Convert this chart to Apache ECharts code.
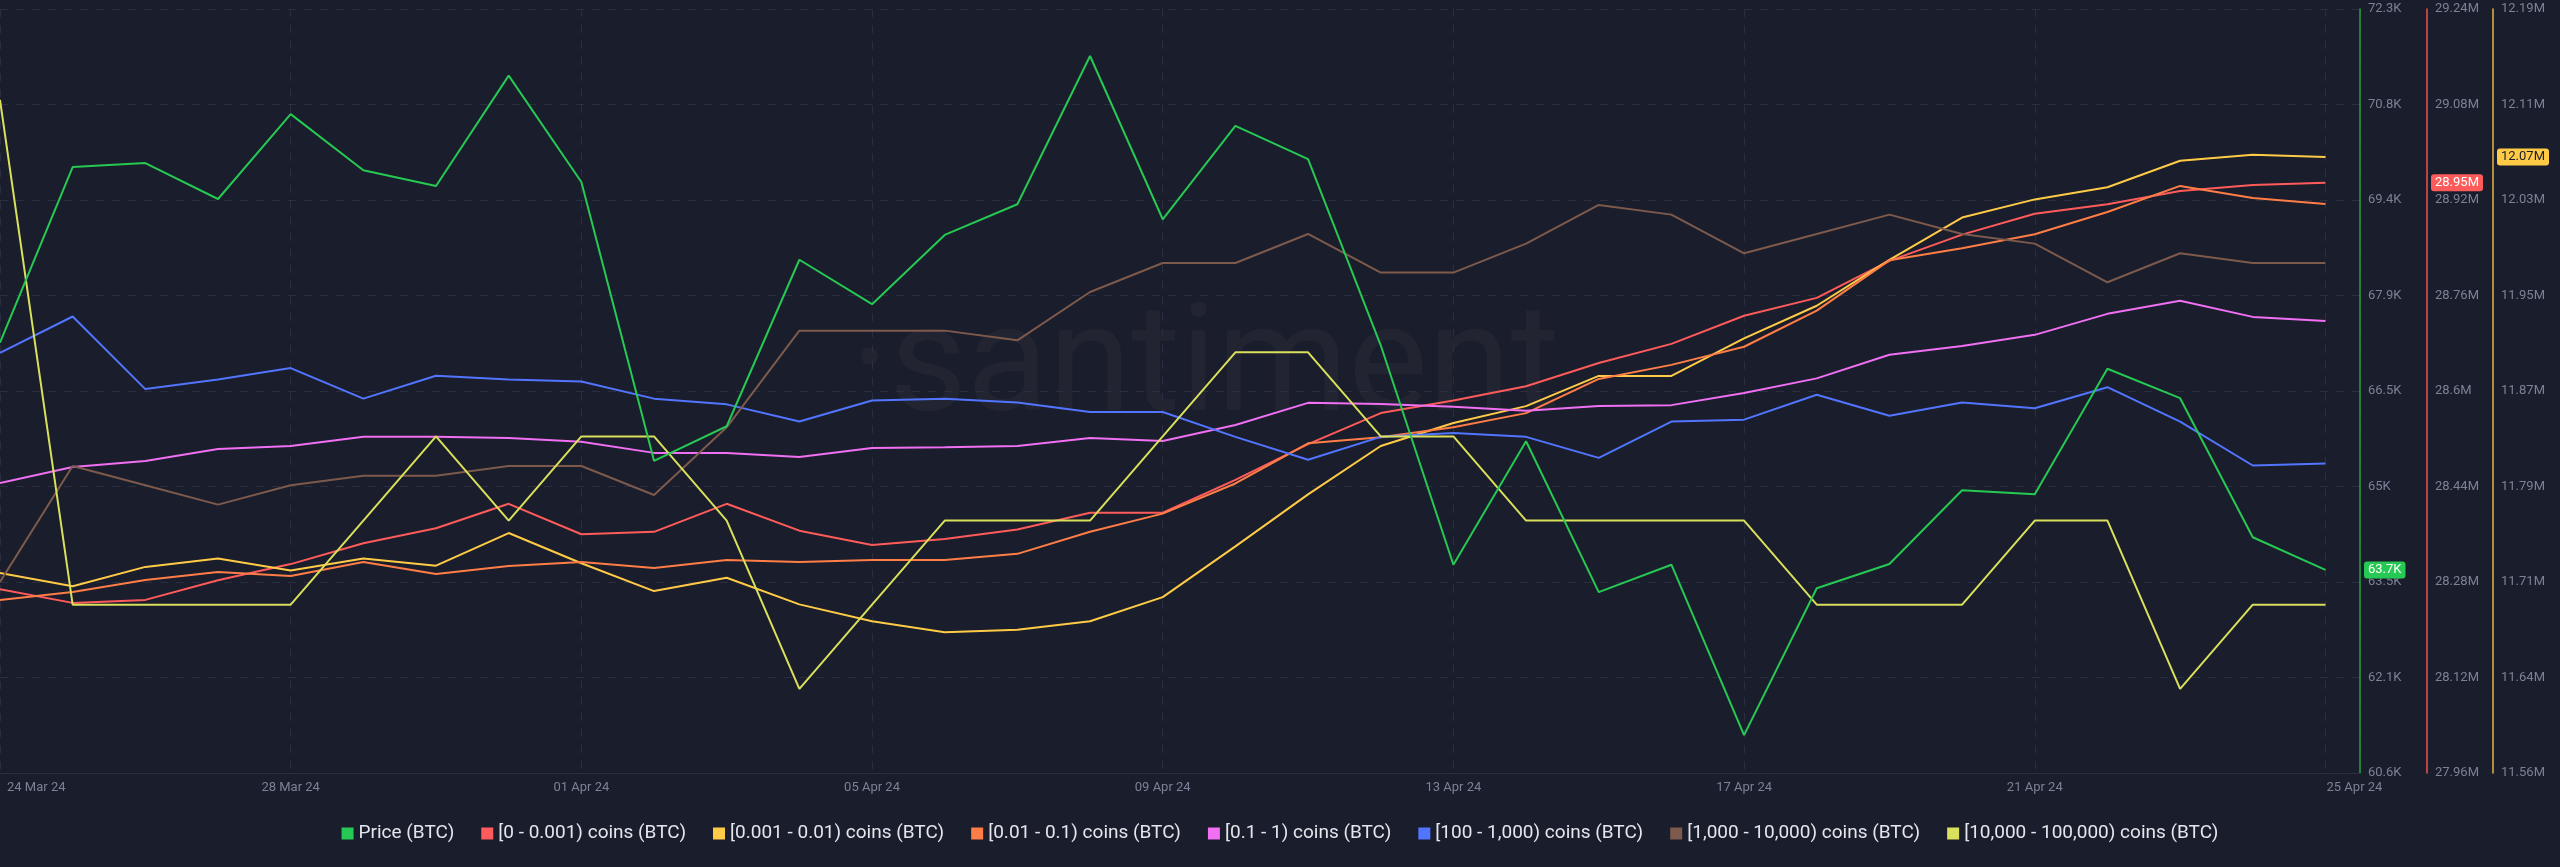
<!DOCTYPE html>
<html>
<head>
<meta charset="utf-8">
<script src="https://cdn.jsdelivr.net/npm/echarts@6/dist/echarts.min.js"></script>
<style>
html,body{margin:0;padding:0;background:#1a1d2b;}
#c{width:2560px;height:867px;}
</style>
</head>
<body>
<div id="c"></div>
<script>
const dates = ['24 Mar 24','25 Mar 24','26 Mar 24','27 Mar 24','28 Mar 24','29 Mar 24','30 Mar 24','31 Mar 24',
  '01 Apr 24','02 Apr 24','03 Apr 24','04 Apr 24','05 Apr 24','06 Apr 24','07 Apr 24','08 Apr 24',
  '09 Apr 24','10 Apr 24','11 Apr 24','12 Apr 24','13 Apr 24','14 Apr 24','15 Apr 24','16 Apr 24',
  '17 Apr 24','18 Apr 24','19 Apr 24','20 Apr 24','21 Apr 24','22 Apr 24','23 Apr 24','24 Apr 24','25 Apr 24'];

const seriesNames = ['Price (BTC)','[0 - 0.001) coins (BTC)','[0.001 - 0.01) coins (BTC)','[0.01 - 0.1) coins (BTC)',
  '[0.1 - 1) coins (BTC)','[100 - 1,000) coins (BTC)','[1,000 - 10,000) coins (BTC)','[10,000 - 100,000) coins (BTC)'];

// Price in USD
const price = [67200,69890,69950,69400,70700,69840,69600,71290,69660,65390,65920,68470,67790,68850,69320,71590,
  69090,70520,70010,67160,63800,65690,63380,63800,61190,63440,63810,64940,64880,66800,66350,64220,63720];
// address counts, millions
const bal0 = [28.268,28.245,28.250,28.283,28.310,28.345,28.370,28.411,28.360,28.364,28.411,28.366,28.342,28.352,28.368,28.396,
  28.396,28.451,28.511,28.563,28.584,28.608,28.647,28.679,28.726,28.756,28.818,28.862,28.897,28.913,28.935,28.945,28.949];
const bal1 = [11.722,11.711,11.727,11.734,11.724,11.734,11.728,11.755,11.730,11.707,11.718,11.696,11.682,11.673,11.675,11.682,
  11.702,11.744,11.787,11.827,11.846,11.860,11.885,11.885,11.916,11.943,11.981,12.016,12.031,12.041,12.063,12.068,12.066];
const bal2 = [7.806,7.810,7.816,7.820,7.818,7.825,7.819,7.823,7.825,7.822,7.826,7.825,7.826,7.826,7.829,7.840,
  7.849,7.864,7.884,7.887,7.892,7.899,7.916,7.923,7.932,7.950,7.975,7.981,7.988,7.999,8.012,8.006,8.003];
const bal3 = [3.4759,3.4801,3.4817,3.4848,3.4856,3.4880,3.4880,3.4877,3.4867,3.4838,3.4838,3.4827,3.4851,3.4853,3.4856,3.4877,
  3.4869,3.4911,3.4969,3.4966,3.4959,3.4948,3.4961,3.4963,3.4995,3.5033,3.5095,3.5118,3.5147,3.5202,3.5236,3.5194,3.5183];
// address counts
const bal4 = [14020,14039,14001,14006,14012,13996,14008,14006,14005,13996,13993,13984,13995,13996,13994,13989,
  13989,13976,13964,13976,13978,13976,13965,13984,13985,13998,13987,13994,13991,14002,13984,13961,13962];
const bal5 = [1920,1932,1930,1928,1930,1931,1931,1932,1932,1929,1936,1946,1946,1946,1945,1950,
  1953,1953,1956,1952,1952,1955,1959,1958,1954,1956,1958,1956,1955,1951,1954,1953,1953];
const bal6 = [104,98,98,98,98,99,100,99,100,100,99,97,98,99,99,99,
  100,101,101,100,100,99,99,99,99,98,98,98,99,99,97,98,98];

const colors = ['#26c953','#ff5b5b','#ffcb47','#ff7d47','#f06ff3','#5275ff','#7d5a4c','#d9e05b'];
const allData = [price,bal0,bal1,bal2,bal3,bal4,bal5,bal6];

const chart = echarts.init(document.getElementById('c'), null, {renderer:'canvas'});
const FONT = 'Roboto';
const LABEL_COLOR = '#7d8196';

function trim(n, d){ return String(+n.toFixed(d)); }

const hiddenAxes = [
  {min:7.72, max:8.10},
  {min:3.40, max:3.60},
  {min:13800, max:14200},
  {min:1900.24, max:1979.27},
  {min:96, max:105.08}
];

const yAxes = [
  {
    type:'value', position:'right', offset:0, min:60610, max:72310, interval:1462.5,
    axisLine:{show:true, onZero:false, lineStyle:{color:'#21a33f', width:1.5}},
    axisTick:{show:false},
    axisLabel:{color:LABEL_COLOR, fontSize:13, fontFamily:FONT, margin:8,
      formatter:v => trim(v/1000,1)+'K'},
    splitLine:{show:true, lineStyle:{color:'#2a2e40', type:[8,8], width:1}},
    axisPointer:{show:true, status:'show', value:price[price.length-1], triggerTooltip:false,
      lineStyle:{opacity:0},
      label:{show:true, margin:4, padding:[2,4,2,4], fontSize:13, fontFamily:FONT, color:'#fff',
        backgroundColor:'#26c953', formatter:p => trim(p.value/1000,1)+'K'}}
  },
  {
    type:'value', position:'right', offset:67, min:27.96, max:29.24, interval:0.16,
    axisLine:{show:true, onZero:false, lineStyle:{color:'#f0524d', width:1.5}},
    axisTick:{show:false},
    axisLabel:{color:LABEL_COLOR, fontSize:13, fontFamily:FONT, margin:8, formatter:v => trim(v,2)+'M'},
    splitLine:{show:false},
    axisPointer:{show:true, status:'show', value:bal0[bal0.length-1], triggerTooltip:false,
      lineStyle:{opacity:0},
      label:{show:true, margin:4, padding:[2,4,2,4], fontSize:13, fontFamily:FONT, color:'#fff',
        backgroundColor:'#ff5b5b', formatter:p => (+p.value).toFixed(2)+'M'}}
  },
  {
    type:'value', position:'right', offset:133, min:11.5565, max:12.1885, interval:0.079,
    axisLine:{show:true, onZero:false, lineStyle:{color:'#e8b640', width:1.5}},
    axisTick:{show:false},
    axisLabel:{color:LABEL_COLOR, fontSize:13, fontFamily:FONT, margin:8, formatter:v => trim(v,2)+'M'},
    splitLine:{show:false},
    axisPointer:{show:true, status:'show', value:bal1[bal1.length-1], triggerTooltip:false,
      lineStyle:{opacity:0},
      label:{show:true, margin:4, padding:[2,4,2,4], fontSize:13, fontFamily:FONT, color:'#1a1d2b',
        backgroundColor:'#ffcb47', formatter:p => (+p.value).toFixed(2)+'M'}}
  }
].concat(hiddenAxes.map(a => ({type:'value', show:false, position:'right', min:a.min, max:a.max,
  axisLine:{onZero:false}, splitLine:{show:false}, axisPointer:{show:false}})));

const option = {
  backgroundColor:'#1a1d2b',
  animation:false,
  textStyle:{fontFamily:FONT},
  graphic:[{
    type:'text', x:1205, y:372, silent:true, z:-10,
    style:{text:'·santiment', font:'150px Roboto', fill:'rgba(255,255,255,0.035)',
      align:'center', verticalAlign:'middle'}
  }],
  grid:{left:0, right:200, top:9, bottom:94, containLabel:false},
  legend:{
    bottom:19, left:'center', icon:'rect', itemWidth:12, itemHeight:12, itemGap:27,
    textStyle:{color:'#e4e6ee', fontSize:19, fontFamily:FONT},
    data:seriesNames
  },
  xAxis:{
    type:'value', min:0, max:2360/72.67, interval:4,
    axisLine:{show:true, onZero:false, lineStyle:{color:'#2a2e40'}},
    axisTick:{show:false},
    splitLine:{show:true, lineStyle:{color:'#2a2e40', type:[8,8], width:1}},
    axisLabel:{
      color:LABEL_COLOR, fontSize:13, fontFamily:FONT, margin:8,
      alignMinLabel:'left', showMaxLabel:true,
      formatter:v => {
        if (!Number.isInteger(v) || !dates[v]) return '';
        if (v === 0) return '{first|' + dates[v] + '}';
        if (v === dates.length-1) return '{last|' + dates[v] + '}';
        return dates[v];
      },
      rich:{
        first:{color:LABEL_COLOR, fontSize:13, fontFamily:FONT, padding:[0,0,0,7]},
        last:{color:LABEL_COLOR, fontSize:13, fontFamily:FONT, padding:[0,0,0,58]}
      }
    }
  },
  yAxis:yAxes,
  series:seriesNames.map((name,k) => ({
    name, type:'line', yAxisIndex:k, showSymbol:false, symbol:'none',
    lineStyle:{width:2, color:colors[k]}, itemStyle:{color:colors[k]},
    z: k === 0 ? 3 : 2,
    data:allData[k].map((v,i) => [i, v])
  }))
};
chart.setOption(option);
</script>
</body>
</html>
